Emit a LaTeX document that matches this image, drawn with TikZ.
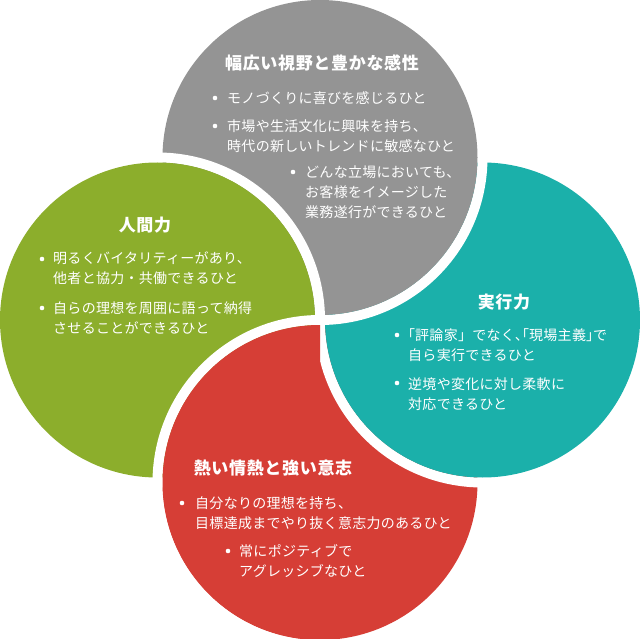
\documentclass[tikz,border=0pt]{standalone}
\usepackage{fontspec}
\newfontfamily\jp[LetterSpace=2]{Noto Sans CJK JP}
\newfontfamily\jpt[LetterSpace=4]{Noto Sans CJK JP}
\newfontfamily\jph[RawFeature=+halt,LetterSpace=2]{Noto Sans CJK JP}
\definecolor{cgrey}{HTML}{949494}
\definecolor{cgreen}{HTML}{8CAE2C}
\definecolor{cteal}{HTML}{1BB0AA}
\definecolor{cred}{HTML}{D63E36}
\tikzset{
  ttl/.style={font=\jpt\bfseries\fontsize{17}{20}\selectfont, text=white, inner sep=0pt},
  itm/.style={font=\jp\fontsize{14}{20}\selectfont, text=white, align=left, anchor=west, inner sep=0pt},
  bul/.style={fill=white},
  ring/.style={fill=white, even odd rule},
}
\newcommand\mydisc[2]{%
  \fill[ring] #1 circle[radius=167.5pt] #1 circle[radius=157.5pt];
  \fill[#2] #1 circle[radius=157.5pt];}
\begin{document}
\begin{tikzpicture}[x=1pt,y=-1pt]
\useasboundingbox (0,0) rectangle (640,639);
% circles (pinwheel overlap)
\mydisc{(320,482.5)}{cred}
\mydisc{(482.5,320)}{cteal}
\mydisc{(320,157.5)}{cgrey}
\mydisc{(157.5,320)}{cgreen}
\begin{scope}
  \clip (0,0) rectangle (320,639);
  \mydisc{(320,482.5)}{cred}
\end{scope}
% grey
\node[ttl] (gt) at (322,63) {幅広い視野と豊かな感性};
\fill[bul] (215,98) circle[radius=2.3pt];
\node[itm] (g1) at (227,98) {モノづくりに喜びを感じるひと};
\fill[bul] (215,126) circle[radius=2.3pt];
\node[itm] (g2) at (227,136) {市場や生活文化に興味を持ち、\\時代の新しいトレンドに敏感なひと};
\fill[bul] (293,172) circle[radius=2.3pt];
\node[itm] (g3) at (305,192) {どんな立場においても、\\お客様をイメージした\\業務遂行ができるひと};
% green
\node[ttl] (lt) at (145,225) {人間力};
\fill[bul] (42,259) circle[radius=2.3pt];
\node[itm] (l1) at (53,268.5) {明るくバイタリティーがあり、\\他者と協力・共働できるひと};
\fill[bul] (42,308) circle[radius=2.3pt];
\node[itm] (l2) at (53,318) {自らの理想を周囲に語って納得\\させることができるひと};
% teal
\node[ttl] (tt) at (504,302) {実行力};
\fill[bul] (397,335) circle[radius=2.3pt];
\node[itm] (t1) at (408,345) {{\jph 「}評論家」でなく{\jph 、「}現場主義{\jph 」}で\\自ら実行できるひと};
\fill[bul] (397,383) circle[radius=2.3pt];
\node[itm] (t2) at (408,394) {逆境や変化に対し柔軟に\\対応できるひと};
% red
\node[ttl] (rt) at (273,468) {熱い情熱と強い意志};
\fill[bul] (182,503) circle[radius=2.3pt];
\node[itm] (r1) at (195,513) {自分なりの理想を持ち、\\目標達成までやり抜く意志力のあるひと};
\fill[bul] (228,551) circle[radius=2.3pt];
\node[itm] (r2) at (239,561.5) {常にポジティブで\\アグレッシブなひと};
\end{tikzpicture}
\end{document}
